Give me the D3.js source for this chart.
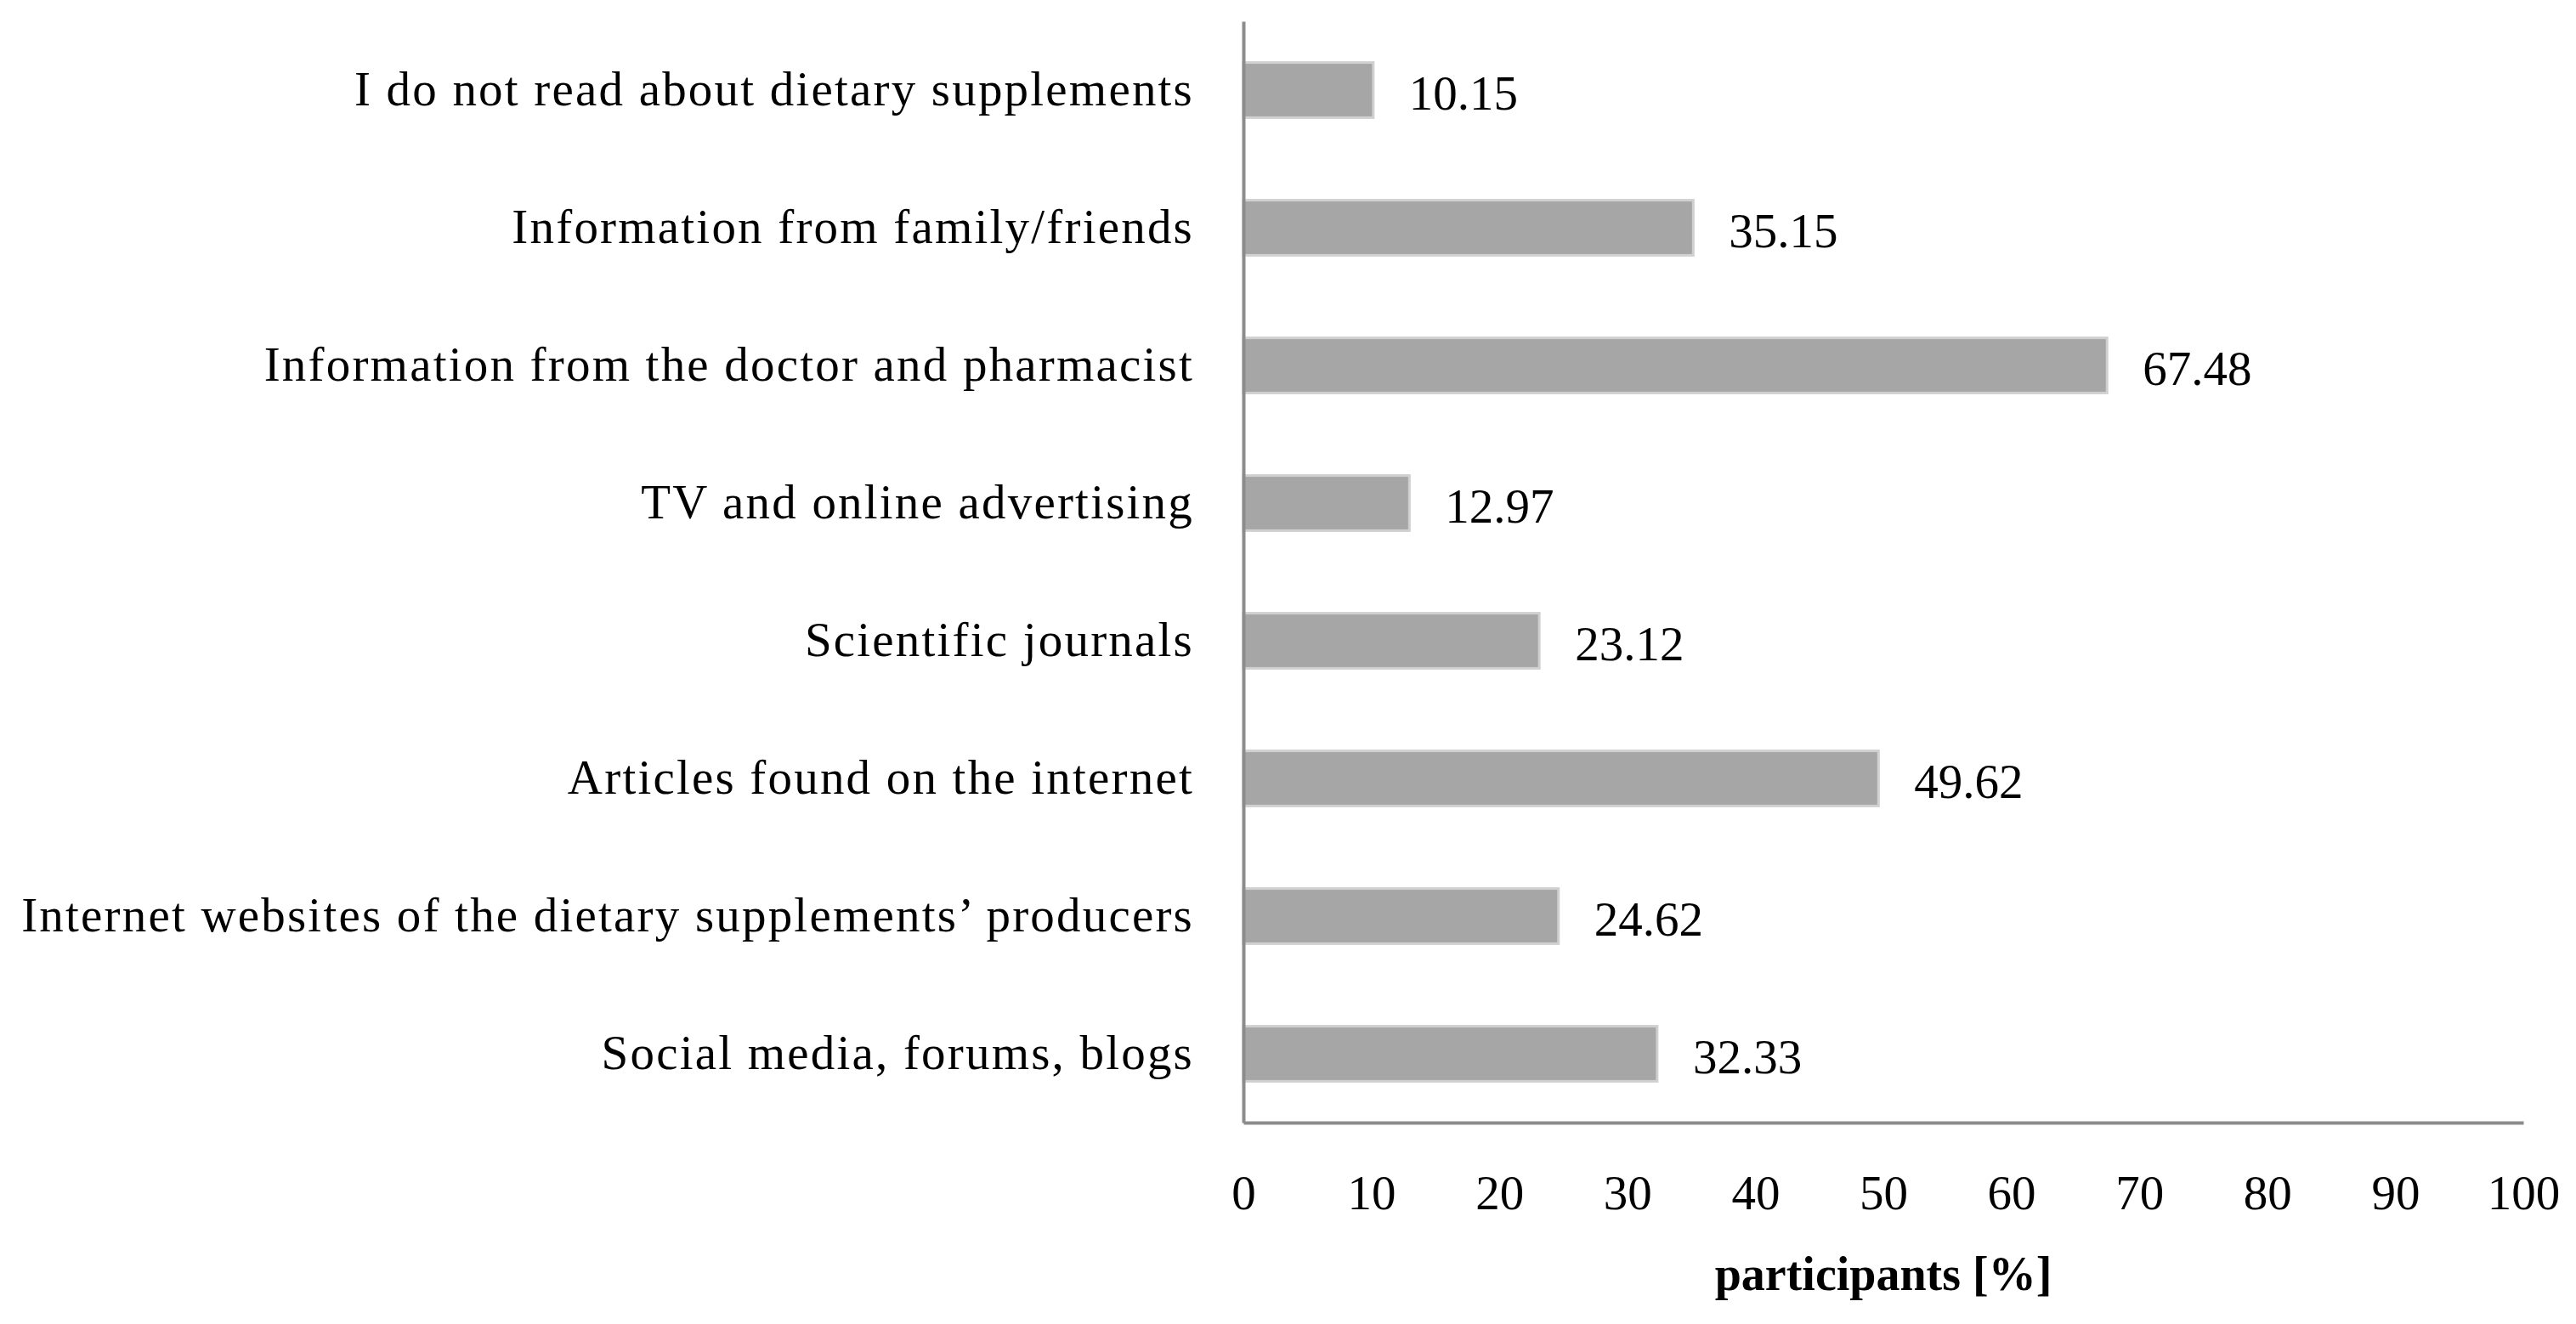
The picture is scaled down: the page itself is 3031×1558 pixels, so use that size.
<!DOCTYPE html>
<html>
<head>
<meta charset="utf-8">
<script src="https://cdn.jsdelivr.net/npm/d3@7"></script>
<style>
  body { margin: 0; background: #fff; }
  text { font-family: "Liberation Serif", "DejaVu Serif", serif; fill: #000; }
</style>
</head>
<body>
<div id="chart"></div>
<script>
// data
const sources = [
  "I do not read about dietary supplements",
  "Information from family/friends",
  "Information from the doctor and pharmacist",
  "TV and online advertising",
  "Scientific journals",
  "Articles found on the internet",
  "Internet websites of the dietary supplements\u2019 producers",
  "Social media, forums, blogs"
];
const shares = [10.15, 35.15, 67.48, 12.97, 23.12, 49.62, 24.62, 32.33];
const xTicks = [0, 10, 20, 30, 40, 50, 60, 70, 80, 90, 100];
const xTitle = "participants [%]";

const W = 3031, H = 1558;
const m = { top: 25, right: 62, bottom: 237, left: 1463 };

let svg = d3.select("#chart").append("svg")
  .attr("width", W)
  .attr("height", H);

let xScale = d3.scaleLinear()
  .domain([0, 100])
  .range([m.left, W - m.right]);

let yScale = d3.scaleBand()
  .domain(sources)
  .range([m.top, H - m.bottom])
  .paddingInner(0.6)
  .paddingOuter(0.3);

// bars
svg.selectAll("rect.bar")
  .data(sources)
  .enter()
  .append("rect")
  .attr("class", "bar")
  .attr("x", xScale(0))
  .attr("y", d => yScale(d))
  .attr("width", (d, i) => xScale(shares[i]) - xScale(0))
  .attr("height", yScale.bandwidth())
  .attr("fill", "#a6a6a6")
  .attr("stroke", "#d0d0d0")
  .attr("stroke-width", 3);

// value labels
svg.selectAll("text.val")
  .data(sources)
  .enter()
  .append("text")
  .attr("class", "val")
  .attr("x", (d, i) => xScale(shares[i]) + 42)
  .attr("y", d => yScale(d) + yScale.bandwidth() / 2)
  .attr("dy", "0.4em")
  .style("font-size", "57px")
  .text((d, i) => shares[i].toFixed(2));

// category labels
svg.selectAll("text.cat")
  .data(sources)
  .enter()
  .append("text")
  .attr("class", "cat")
  .attr("x", m.left - 58)
  .attr("y", d => yScale(d) + yScale.bandwidth() / 2)
  .attr("dy", "0.32em")
  .attr("text-anchor", "end")
  .style("font-size", "57px")
  .style("letter-spacing", "2.2px")
  .text(d => d);

// axes
let xAxis = d3.axisBottom(xScale)
  .tickValues(xTicks)
  .tickSize(0)
  .tickPadding(62);

let gx = svg.append("g")
  .attr("transform", "translate(0," + (H - m.bottom) + ")")
  .call(xAxis);
gx.select(".domain").attr("stroke", "#8c8c8c").attr("stroke-width", 4);
gx.selectAll("text")
  .style("font-family", "'Liberation Serif', serif")
  .style("font-size", "57px")
  .attr("fill", "#000");

let gy = svg.append("g")
  .attr("transform", "translate(" + m.left + ",0)")
  .call(d3.axisLeft(yScale).tickSize(0).tickFormat(""));
gy.select(".domain").attr("stroke", "#8c8c8c").attr("stroke-width", 4);

svg.append("text")
  .attr("x", (xScale(0) + xScale(100)) / 2)
  .attr("y", 1518)
  .attr("text-anchor", "middle")
  .style("font-size", "56px")
  .style("font-weight", "bold")
  .text(xTitle);
</script>
</body>
</html>
